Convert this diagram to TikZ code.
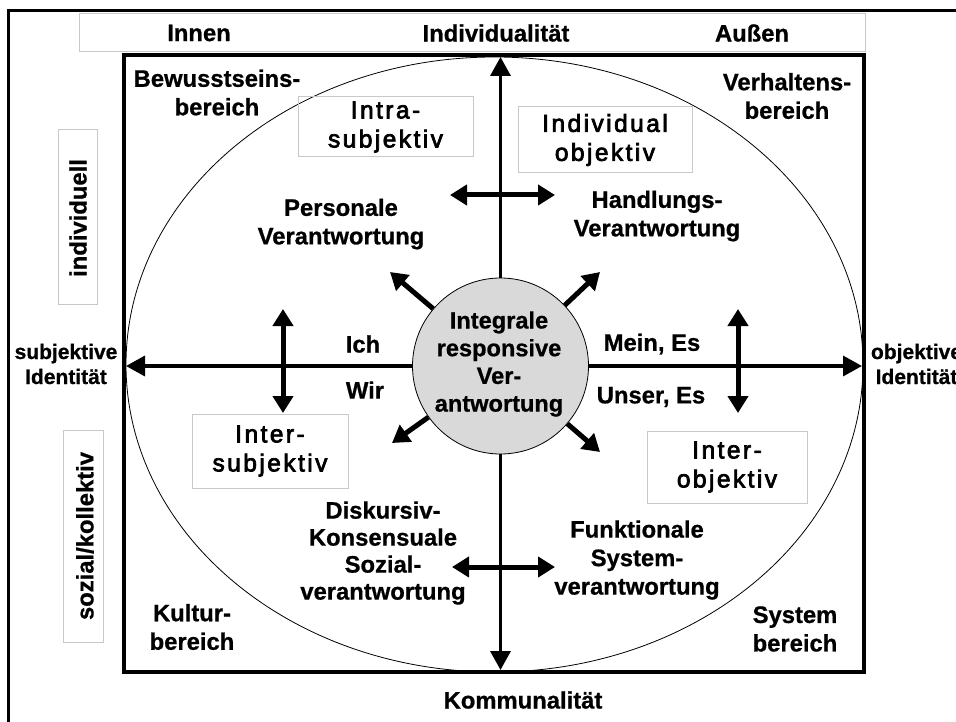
\documentclass[tikz,border=0pt]{standalone}
\usepackage{fontspec}
\setmainfont{Liberation Sans}[BoldFeatures={FakeBold=0.8}]
\newfontfamily\boxfont[LetterSpace=10, FakeBold=3]{Liberation Sans}
\usetikzlibrary{arrows.meta}
\definecolor{circfill}{RGB}{217,217,217}
\definecolor{boxline}{RGB}{200,200,200}
\begin{document}
\begin{tikzpicture}[x=1pt,y=-1pt,
  lbl/.style={font=\bfseries\fontsize{23.8}{28.5}\selectfont, align=center, inner sep=0pt},
  sidelbl/.style={font=\bfseries\fontsize{21}{25}\selectfont, align=center, inner sep=0pt},
  quad/.style={draw=boxline, line width=1pt, inner sep=0pt},
  qtext/.style={font=\boxfont\fontsize{24.5}{29}\selectfont, align=center},
  axisarrow/.style={line width=3.5pt, -{Triangle[length=19pt,width=20pt]}},
  dblarrow/.style={line width=5pt, {Triangle[length=17pt,width=20pt]}-{Triangle[length=17pt,width=20pt]}},
  rayarrow/.style={line width=5pt, -{Triangle[length=17pt,width=20pt]}},
]
\useasboundingbox (0,0) rectangle (956,722);

% frames
\draw[line width=2.5pt] (8.5,740) -- (8.5,10.5) -- (975,10.5);
\node[quad, minimum width=786pt, minimum height=38pt] (topbox) at (472,33) {};
\draw[line width=4.5pt] (124,55) rectangle (864,672);
\draw[line width=0.8pt] (494.5,364.5) ellipse [x radius=368.5, y radius=307.5];

% side boxes
\node[quad, minimum width=39pt, minimum height=174pt] (indbox) at (77.5,217) {};
\node[lbl, rotate=90] (indtxt) at (78,218) {individuell};
\node[quad, minimum width=40pt, minimum height=212pt] (sozbox) at (83,536) {};
\node[lbl, rotate=90] (soztxt) at (85,536) {sozial/kollektiv};

% quadrant boxes
\node[quad, qtext, minimum width=175pt, minimum height=60pt] (intra) at (385.5,127) {Intra-\\subjektiv};
\node[quad, qtext, minimum width=174pt, minimum height=66pt] (indobj) at (605,140) {Individual\\objektiv};
\node[quad, qtext, minimum width=156pt, minimum height=74pt] (intersub) at (270,451) {Inter-\\subjektiv};
\node[quad, qtext, minimum width=160pt, minimum height=72pt] (interobj) at (727,467) {Inter-\\objektiv};

% centre circle
\node[circle, draw, line width=0.8pt, fill=circfill, minimum size=176pt, inner sep=0pt] (c) at (500.5,366) {};
\node[lbl, font=\bfseries\fontsize{23.6}{27.7}\selectfont] (ctext) at (499,364) {Integrale\\responsive\\Ver-\\antwortung};

% labels
\node[lbl] (innen) at (199,33) {Innen};
\node[lbl] (indiv) at (496,33) {Individualität};
\node[lbl] (aussen) at (752,33) {Außen};
\node[lbl] (bew) at (217,92.5) {Bewusstseins-\\bereich};
\node[lbl] (verh) at (787,96) {Verhaltens-\\bereich};
\node[lbl] (pers) at (341,224) {Personale\\Verantwortung};
\node[lbl] (handl) at (657,216) {Handlungs-\\Verantwortung};
\node[sidelbl] (subj) at (66,364) {subjektive\\Identität};
\node[sidelbl] (obj) at (916.5,364) {objektive\\Identität};
\node[lbl] (ich) at (363,344) {Ich};
\node[lbl] (wir) at (365,390) {Wir};
\node[lbl] (mein) at (652,344) {Mein, Es};
\node[lbl] (unser) at (651,397) {Unser, Es};
\node[lbl, font=\bfseries\fontsize{23.8}{27}\selectfont] (disk) at (383,553) {Diskursiv-\\Konsensuale\\Sozial-\\verantwortung};
\node[lbl] (funk) at (637,560) {Funktionale\\System-\\verantwortung};
\node[lbl] (kult) at (192,627) {Kultur-\\bereich};
\node[lbl] (sys) at (795,629) {System\\bereich};
\node[lbl] (komm) at (523,700) {Kommunalität};

% axes
\coordinate (ttip) at (500.5,57);
\coordinate (btip) at (500.5,670);
\coordinate (ltip) at (126,366);
\coordinate (rtip) at (862,366);
\draw[axisarrow] (c) -- (ttip);
\draw[axisarrow] (c) -- (btip);
\draw[axisarrow] (c) -- (ltip);
\draw[axisarrow] (c) -- (rtip);

% double arrows
\coordinate (ha1) at (450,195); \coordinate (ha2) at (555,195);
\coordinate (hb1) at (452,567); \coordinate (hb2) at (555,567);
\coordinate (va1) at (283,309); \coordinate (va2) at (283,413);
\coordinate (vb1) at (738,309); \coordinate (vb2) at (738,413);
\draw[dblarrow] (ha1) -- (ha2);
\draw[dblarrow] (hb1) -- (hb2);
\draw[dblarrow] (va1) -- (va2);
\draw[dblarrow] (vb1) -- (vb2);

% rays
\coordinate (ul) at (390,272);
\coordinate (ur) at (600,272);
\coordinate (ll) at (392,443);
\coordinate (lr) at (600,452);
\draw[rayarrow] (c) -- (ul);
\draw[rayarrow] (c) -- (ur);
\draw[rayarrow] (c) -- (ll);
\draw[rayarrow] (c) -- (lr);
\end{tikzpicture}
\end{document}
